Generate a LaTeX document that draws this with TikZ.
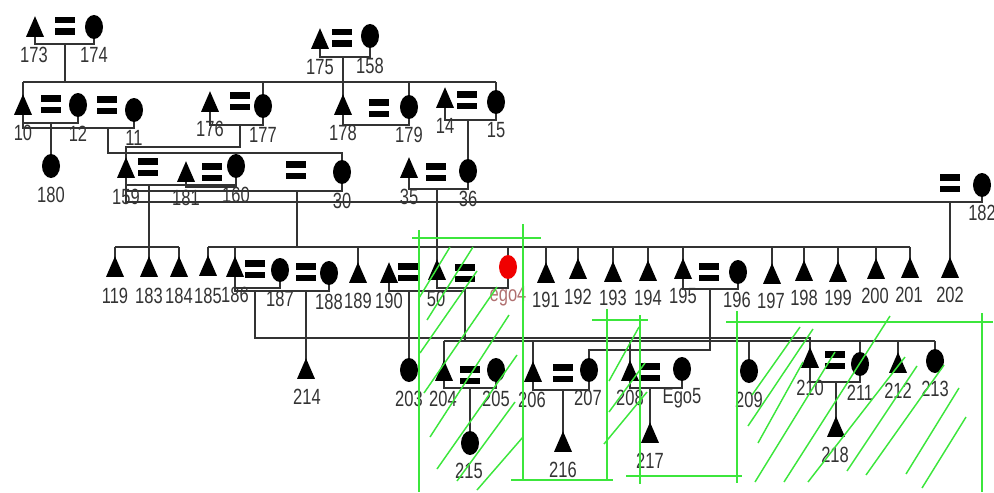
\documentclass[tikz,border=0pt]{standalone}
\usepackage{fontspec}
\setmainfont{Liberation Sans}[FakeStretch=0.75]
\usetikzlibrary{shapes.geometric}
\pgfdeclarelayer{wires}
\pgfsetlayers{wires,main}
\definecolor{ink}{HTML}{333333}
\definecolor{hatch}{HTML}{3CE63C}
\definecolor{egored}{HTML}{F00000}
\definecolor{egolab}{HTML}{B07070}
\tikzset{
  x=0.75pt,y=-0.75pt,
  tri/.style={isosceles triangle,isosceles triangle stretches,shape border rotate=90,minimum width=13.5pt,minimum height=15.5pt,inner sep=0pt,fill=black,yshift=-3pt},
  cir/.style={ellipse,minimum width=13.5pt,minimum height=18pt,inner sep=0pt,fill=black},
  ego/.style={cir,fill=egored},
  lab/.style={inner sep=0pt,text=ink,font=\fontsize{16.5pt}{16.5pt}\selectfont},
  ln/.style={draw=ink,line width=1.1pt},
  gr/.style={draw=hatch,line width=1.1pt},
}
\newcommand\tri[3]{\node[tri] (#1) at (#2,#3) {};}
\newcommand\cir[3]{\node[cir] (#1) at (#2,#3) {};}
\newcommand\lab[3]{\node[lab] at (#1,#2) {#3};}
\newcommand\eqs[2]{\fill (#1-10,#2-9) rectangle (#1+10,#2-2.5); \fill (#1-10,#2+2.5) rectangle (#1+10,#2+9);}
\newcommand\marr[3]{\draw[ln] (#1.center) -- (#1.center |- 0,#3) -- (#2.center |- 0,#3) -- (#2.center);}
\newcommand\kid[3]{\coordinate (j#3) at (#1,#2); \draw[ln] (j#3) -- (#3.center |- j#3) -- (#3.center);}
\newcommand\bus[2]{\draw[ln] (#1.center |- 0,#2) -- (#1.center);}
\begin{document}
\begin{tikzpicture}
\useasboundingbox (0,0) rectangle (994,492);
% generation 1
\tri{a173}{35}{27} \eqs{65}{26} \cir{a174}{94}{27}
\tri{a175}{320}{39} \eqs{342}{38} \cir{a158}{370}{36}
\lab{34}{55}{173} \lab{94}{55}{174} \lab{320}{67}{175} \lab{370}{66}{158}
% generation 2
\tri{a10}{23}{105} \eqs{51}{104} \cir{a12}{78}{105} \eqs{107}{105} \cir{a11}{134}{110}
\tri{a176}{210}{102} \eqs{240}{101} \cir{a177}{263}{106}
\tri{a178}{343}{105} \eqs{379}{108} \cir{a179}{409}{107}
\tri{a14}{445}{98} \eqs{467}{100} \cir{a15}{496}{102}
\cir{a180}{51}{166}
\lab{23}{133}{10} \lab{78}{134}{12} \lab{134}{138}{11} \lab{51}{195}{180}
\lab{210}{129}{176} \lab{263}{135}{177} \lab{343}{133}{178} \lab{409}{135}{179}
\lab{445}{126}{14} \lab{496}{130}{15}
% generation 3
\tri{a159}{126}{168} \eqs{148}{167} \tri{a181}{186}{172} \eqs{212}{172} \cir{a160}{236}{166}
\eqs{296}{170} \cir{a30}{342}{172}
\tri{a35}{409}{168} \eqs{436}{172} \cir{a36}{468}{171}
\eqs{950}{183} \cir{a182}{982}{185}
\lab{126}{197}{159} \lab{186}{198}{181} \lab{236}{195}{160} \lab{342}{201}{30}
\lab{409}{197}{35} \lab{468}{199}{36} \lab{982}{213}{182}
% generation 4
\tri{a119}{115}{267} \tri{a183}{149}{267} \tri{a184}{179}{267} \tri{a185}{208}{266}
\tri{a186}{235}{267} \eqs{255}{269} \cir{a187}{280}{270} \eqs{306}{272} \cir{a188}{329}{273}
\tri{a189}{358}{273} \tri{a190}{389}{273} \eqs{408}{272} \tri{a50}{437}{270} \eqs{465}{273}
\node[ego] (ego4) at (508,267) {};
\tri{a191}{546}{273} \tri{a192}{578}{269} \tri{a193}{613}{272} \tri{a194}{648}{271}
\tri{a195}{683}{269} \eqs{709}{272} \cir{a196}{738}{272}
\tri{a197}{772}{274} \tri{a198}{804}{271} \tri{a199}{838}{272} \tri{a200}{876}{269}
\tri{a201}{910}{268} \tri{a202}{950}{268}
\lab{115}{296}{119} \lab{149}{296}{183} \lab{179}{296}{184} \lab{208}{296}{185} \lab{235}{295}{186}
\lab{280}{299}{187} \lab{329}{302}{188} \lab{358}{301}{189} \lab{389}{301}{190} \lab{436}{299}{50}
\node[lab,text=egolab] at (508,296) {ego4};
\lab{546}{300}{191} \lab{578}{297}{192} \lab{613}{298}{193} \lab{648}{298}{194} \lab{683}{296}{195}
\lab{737}{300}{196} \lab{771}{301}{197} \lab{804}{298}{198} \lab{838}{298}{199} \lab{875}{296}{200}
\lab{909}{295}{201} \lab{950}{295}{202}
% generation 5
\tri{a214}{306}{369} \cir{a203}{409}{370}
\tri{a204}{444}{371} \eqs{470}{375} \cir{a205}{496}{370}
\tri{a206}{533}{372} \eqs{563}{373} \cir{a207}{589}{370}
\tri{a208}{630}{371} \eqs{650}{372} \cir{ego5}{682}{369}
\cir{a209}{749}{371}
\tri{a210}{810}{358} \eqs{835}{360} \cir{a211}{860}{364} \tri{a212}{898}{363} \cir{a213}{935}{361}
\lab{307}{397}{214} \lab{409}{399}{203} \lab{443}{399}{204} \lab{496}{399}{205} \lab{532}{400}{206}
\lab{588}{398}{207} \lab{630}{398}{208} \lab{682}{398}{Ego5} \lab{749}{400}{209}
\lab{810}{388}{210} \lab{860}{393}{211} \lab{898}{391}{212} \lab{935}{389}{213}
% generation 6
\cir{a215}{470}{443} \tri{a216}{563}{442} \tri{a217}{650}{433} \tri{a218}{836}{427}
\lab{469}{471}{215} \lab{563}{470}{216} \lab{650}{461}{217} \lab{835}{455}{218}
% connectors
\begin{pgfonlayer}{wires}
\marr{a173}{a174}{44} \marr{a175}{a158}{57}
\draw[ln] (a10.center |- 0,82) -- (a15.center |- 0,82);
\foreach \n in {a10,a177,a178,a179,a15} {\bus{\n}{82}}
\coordinate (d173) at (65,44); \draw[ln] (d173) -- (65,82);
\coordinate (d175) at (343,57); \draw[ln] (d175) -- (a178.center);
\marr{a10}{a12}{123} \marr{a10}{a11}{128} \kid{51}{123}{a180}
\coordinate (d11) at (108,128); \draw[ln] (d11) -- (108,153) -| (a30.center);
\marr{a176}{a177}{125} \coordinate (d177) at (240,125); \draw[ln] (d177) -- (240,147) -| (a159.center);
\marr{a178}{a179}{125} \marr{a14}{a15}{120} \kid{468}{120}{a36}
\marr{a181}{a160}{187} \marr{a159}{a160}{185} \marr{a159}{a30}{191}
\marr{a35}{a36}{189}
\draw[ln] (a159.center) -- (a159.center |- 0,202) -- (a182.center |- 0,202) -- (a182.center);
\kid{149}{185}{a183}
\draw[ln] (a119.center |- 0,247) -- (a184.center |- 0,247);
\bus{a119}{247} \bus{a184}{247}
\coordinate (d30) at (297,191); \draw[ln] (d30) -- (297,247);
\draw[ln] (a185.center |- 0,247) -- (a201.center |- 0,247);
\foreach \n in {a185,a186,a189,ego4,a191,a192,a193,a194,a195,a197,a198,a199,a200,a201} {\bus{\n}{247}}
\kid{437}{189}{a50} \kid{950}{202}{a202}
% generation 4 unions
\marr{a186}{a187}{288} \marr{a186}{a188}{291}
\kid{306}{291}{a214}
\coordinate (d186) at (255,291); \draw[ln] (d186) -- (255,338) -| (a210.center);
\draw[ln] (a190.center) -- (a190.center |- 0,291) -- (465,291);
\kid{409}{291}{a203}
\marr{a50}{ego4}{288}
\coordinate (d50) at (465,288); \draw[ln] (d50) -- (465,341);
\draw[ln] (a204.center |- 0,341) -- (a213.center |- 0,341);
\foreach \n in {a204,a206,a208,a209,a211,a212,a213} {\bus{\n}{341}}
\marr{a195}{a196}{289}
\coordinate (d195) at (710,289); \draw[ln] (d195) -- (710,350) -| (a207.center);
% generation 5 unions
\marr{a204}{a205}{388} \kid{470}{388}{a215}
\marr{a206}{a207}{390} \kid{563}{390}{a216}
\marr{a208}{ego5}{388} \kid{650}{388}{a217}
\marr{a210}{a211}{382} \kid{836}{382}{a218}
\end{pgfonlayer}
% green frames
\foreach \a/\b/\c/\d in {
 419/230/419/492, 412/238/541/238, 523/224/523/479, 511/480/613/480,
 607/309/607/481, 592/320/648/320, 640/315/640/484, 626/476/742/476,
 737/311/737/483, 726/322/993/322, 982/313/982/492,
% green hatching
 419/298/450/247, 427/320/473/247, 420/353/477/271, 424/393/497/287,
 430/437/509/315, 437/469/517/355, 457/481/515/402, 477/490/523/437,
 609/381/639/327, 609/412/645/363, 604/444/647/392,
 752/395/800/327, 748/426/813/329, 758/443/803/362, 755/482/835/352,
 784/482/890/316, 808/482/905/357, 847/471/917/366, 866/475/944/365,
 906/474/959/388, 922/488/966/417}
 {\draw[gr] (\a,\b) -- (\c,\d);}
\end{tikzpicture}
\end{document}
